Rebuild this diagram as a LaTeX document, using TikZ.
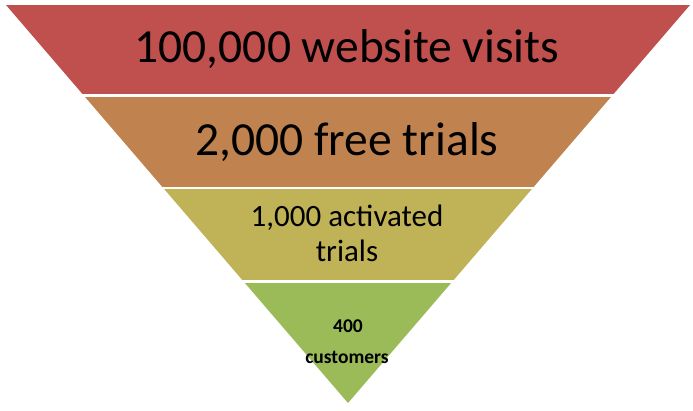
\documentclass[tikz,border=0pt]{standalone}
\usepackage{fontspec}
\setmainfont{Carlito}
\definecolor{bandA}{HTML}{C0504D}
\definecolor{bandB}{HTML}{C0834F}
\definecolor{bandC}{HTML}{BFB257}
\definecolor{bandD}{HTML}{9BBB59}
\begin{document}
\begin{tikzpicture}[x=1pt,y=-1pt,
  lbl/.style={anchor=base,inner sep=0pt,text=black},
  big/.style={lbl,font=\fontsize{47.5}{56}\selectfont},
  mid/.style={lbl,font=\fontsize{31}{37}\selectfont},
  small/.style={lbl,font=\bfseries\fontsize{19.5}{23}\selectfont}]
\useasboundingbox (0,0) rectangle (693,411);
\begin{scope}
\clip (6,5) -- (690,5) -- (348,403) -- cycle;
\fill[bandA] (0,5) rectangle (693,94);
\fill[bandB] (0,97) rectangle (693,187);
\fill[bandC] (0,189) rectangle (693,280);
\fill[bandD] (0,283) rectangle (693,405);
\end{scope}
\node[big] (t1) at (347,63) {100,000 website visits};
\node[big] (t2) at (347,156) {2,000 free trials};
\node[mid] (t3a) at (347,227) {1,000 activated};
\node[mid] (t3b) at (347,262) {trials};
\node[small] (t4a) at (348,333) {400};
\node[small] (t4b) at (347,363) {customers};
\end{tikzpicture}
\end{document}
